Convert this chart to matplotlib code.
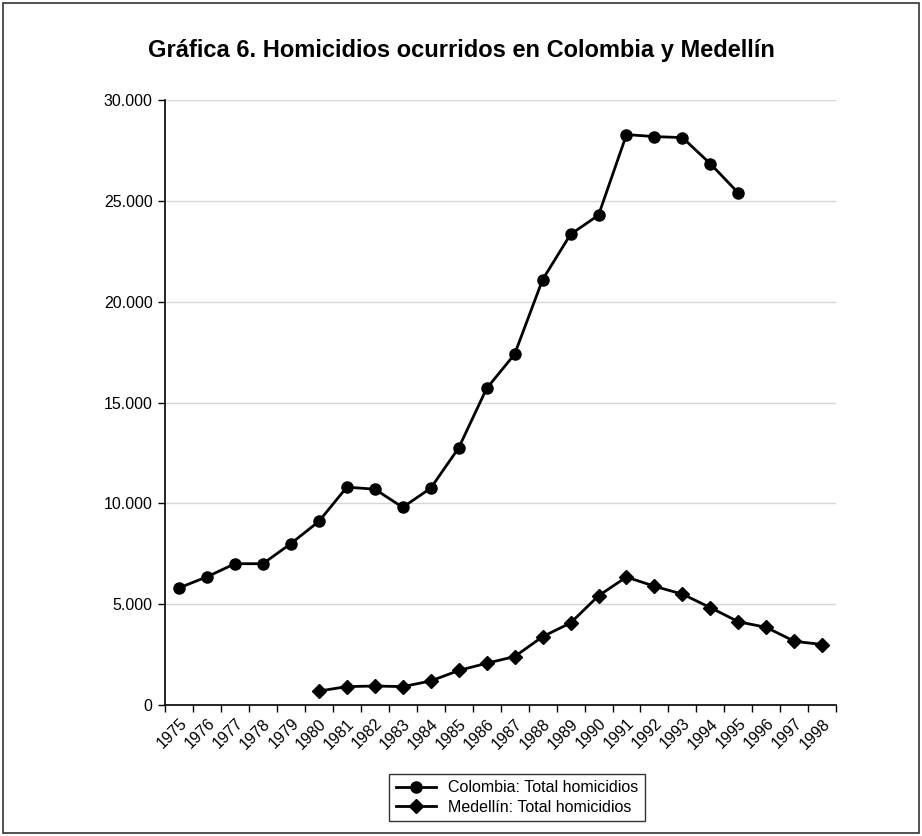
import matplotlib
matplotlib.use("Agg")
import matplotlib.pyplot as plt
from matplotlib.patches import Rectangle
from matplotlib.ticker import FuncFormatter, FixedLocator

years = [str(y) for y in range(1975, 1999)]

# Colombia: 1975-1995
colombia = [5800, 6350, 7000, 7000, 8000, 9100, 10800, 10700, 9800, 10750,
            12750, 15700, 17400, 21100, 23350, 24300, 28300, 28200, 28150,
            26850, 25400]

# Medellín: 1980-1998
medellin = [680, 900, 930, 900, 1180, 1700, 2060, 2390, 3380, 4060, 5410,
            6340, 5880, 5490, 4820, 4120, 3840, 3150, 2990]
medellin_start = 5

plt.rcParams['font.family'] = ['Liberation Sans', 'DejaVu Sans']

fig = plt.figure(figsize=(9.22, 8.36), dpi=100)
ax = fig.add_axes([0.179, 0.157, 0.728, 0.723])

x_col = list(range(len(colombia)))
x_med = list(range(medellin_start, medellin_start + len(medellin)))

ax.plot(x_col, colombia, color="black", lw=2, marker="o", ms=8,
        label="Colombia: Total homicidios")
ax.plot(x_med, medellin, color="black", lw=2, marker="D", ms=7.5,
        label="Medellín: Total homicidios")

ax.set_xlim(-0.5, len(years) - 0.5)
ax.set_ylim(0, 30000)
ax.set_yticks(range(0, 30001, 5000))
ax.yaxis.set_major_formatter(FuncFormatter(lambda v, p: f"{int(v):,}".replace(",", ".")))
ax.grid(axis="y", color="#d6d6d6", lw=1)
ax.set_axisbelow(True)

ax.set_xticks(range(len(years)))
ax.set_xticklabels(years, rotation=45, ha="right", rotation_mode="anchor", fontsize=11.5)
ax.tick_params(axis="x", which="major", length=0, pad=8)
ax.xaxis.set_minor_locator(FixedLocator([i - 0.5 for i in range(len(years) + 1)]))
ax.tick_params(axis="x", which="minor", length=5, width=1, color="black")
ax.tick_params(axis="y", length=5, width=1, labelsize=11.5, pad=4)

for s in ["top", "right"]:
    ax.spines[s].set_visible(False)
ax.spines["left"].set_linewidth(1.2)
ax.spines["bottom"].set_linewidth(1.2)

fig.text(0.5, 0.94, "Gráfica 6. Homicidios ocurridos en Colombia y Medellín",
         ha="center", va="center", fontsize=17, fontweight="bold")

leg = fig.legend(loc="lower center", bbox_to_anchor=(0.561, 0.008), fontsize=11.5,
                 frameon=True, fancybox=False, edgecolor="black",
                 handlelength=2.5, borderpad=0.4, labelspacing=0.3)
leg.get_frame().set_linewidth(1)

fig.patches.append(Rectangle((0.003, 0.003), 0.994, 0.994, transform=fig.transFigure,
                             fill=False, edgecolor="#333333", lw=1.2))

fig.savefig("out.png", dpi=100)
